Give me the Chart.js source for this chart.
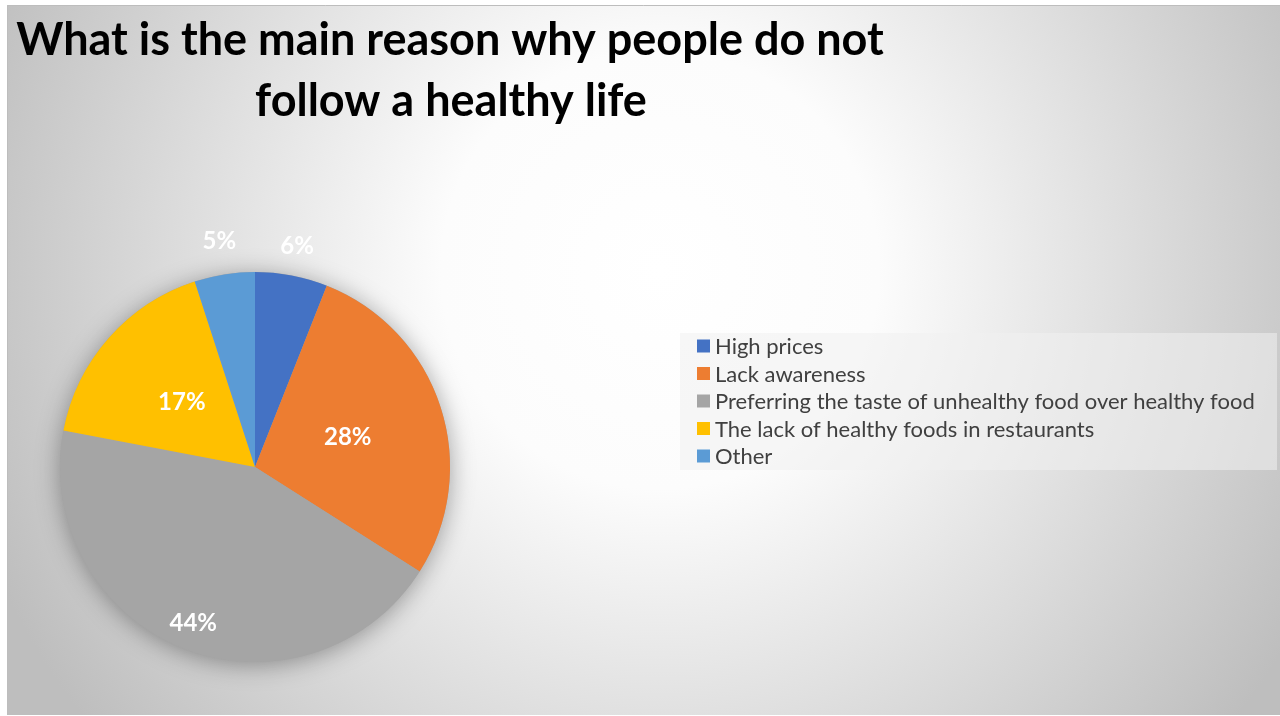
<!DOCTYPE html>
<html>
<head>
<meta charset="utf-8">
<script src="https://cdn.jsdelivr.net/npm/chart.js@4.4.1/dist/chart.umd.min.js"></script>
<style>
  html, body { margin: 0; padding: 0; background: #fff; }
  canvas { display: block; }
</style>
</head>
<body>
<canvas id="myChart" width="1280" height="716"></canvas>
<script>
// data
const labels = [
  "High prices",
  "Lack awareness",
  "Preferring the taste of unhealthy food over healthy food",
  "The lack of healthy foods in restaurants",
  "Other"
];
const values = [6, 28, 44, 17, 5];
const colors = ["#4472c4", "#ed7d31", "#a5a5a5", "#ffc000", "#5b9bd5"];
const titleLines = ["What is the main reason why people do not", "follow a healthy life"];

// where each label sits, as a fraction of the radius
const labelRadius = [1.15, 0.5, 0.86, 0.5, 1.17];

const ctx = document.getElementById("myChart").getContext("2d");

const backgroundPlugin = {
  id: "bg",
  beforeDraw: chart => {
    const c = chart.ctx;
    c.save();
    c.fillStyle = "#ffffff";
    c.fillRect(0, 0, chart.width, chart.height);
    const g = c.createRadialGradient(660, 270, 0, 660, 270, 730);
    g.addColorStop(0, "#ffffff");
    g.addColorStop(0.3, "#fcfcfc");
    g.addColorStop(1, "#bebebe");
    c.fillStyle = g;
    c.fillRect(7, 5, chart.width - 7, 710);
    c.strokeStyle = "#bdbdbd";
    c.lineWidth = 1;
    c.beginPath();
    c.moveTo(7.5, 715);
    c.lineTo(7.5, 5.5);
    c.lineTo(chart.width, 5.5);
    c.stroke();

    // title
    c.fillStyle = "#000000";
    c.font = "bold 45px Lato";
    c.textAlign = "center";
    c.textBaseline = "middle";
    c.fillText(titleLines[0], 450, 40);
    c.fillText(titleLines[1], 451, 101);

    // legend box
    c.fillStyle = "rgba(240,240,240,0.55)";
    c.fillRect(680, 333, 597, 137);
    c.font = "22px Lato";
    c.textAlign = "left";
    c.textBaseline = "middle";
    chart.data.labels.forEach((lab, i) => {
      const y = 346 + i * 27.5;
      c.fillStyle = chart.data.datasets[0].backgroundColor[i];
      c.fillRect(697, y - 6.5, 13, 13);
      c.fillStyle = "#404040";
      c.fillText(lab, 715, y + 1);
    });
    c.restore();
  }
};

const shadowPlugin = {
  id: "pieShadow",
  beforeDatasetsDraw: chart => {
    const arc = chart.getDatasetMeta(0).data[0];
    if (!arc) return;
    const c = chart.ctx;
    c.save();
    c.shadowColor = "rgba(0,0,0,0.35)";
    c.shadowBlur = 24;
    c.shadowOffsetY = 3;
    c.fillStyle = "#a5a5a5";
    c.beginPath();
    c.arc(arc.x, arc.y, arc.outerRadius, 0, Math.PI * 2);
    c.fill();
    c.restore();
  }
};

const labelPlugin = {
  id: "pctLabels",
  afterDatasetsDraw: chart => {
    const c = chart.ctx;
    const data = chart.data.datasets[0].data;
    const total = data.reduce((a, b) => a + b, 0);
    c.save();
    c.font = "bold 24px Lato";
    c.fillStyle = "#ffffff";
    c.textAlign = "center";
    c.textBaseline = "middle";
    chart.getDatasetMeta(0).data.forEach((arc, i) => {
      const mid = (arc.startAngle + arc.endAngle) / 2;
      const r = arc.outerRadius * labelRadius[i];
      const x = arc.x + Math.cos(mid) * r;
      const y = arc.y + Math.sin(mid) * r;
      c.fillText(Math.round(data[i] / total * 100) + "%", x, y);
    });
    c.restore();
  }
};

const myChart = new Chart(ctx, {
  type: "pie",
  plugins: [backgroundPlugin, shadowPlugin, labelPlugin],
  data: {
    labels: labels,
    datasets: [
      {
        data: values,
        backgroundColor: colors,
        borderWidth: 0
      }
    ]
  },
  options: {
    responsive: false,
    animation: false,
    layout: {
      padding: { left: 60, top: 272, right: 830, bottom: 54 }
    },
    plugins: {
      legend: { display: false },
      tooltip: { enabled: false }
    }
  }
});
</script>
</body>
</html>
